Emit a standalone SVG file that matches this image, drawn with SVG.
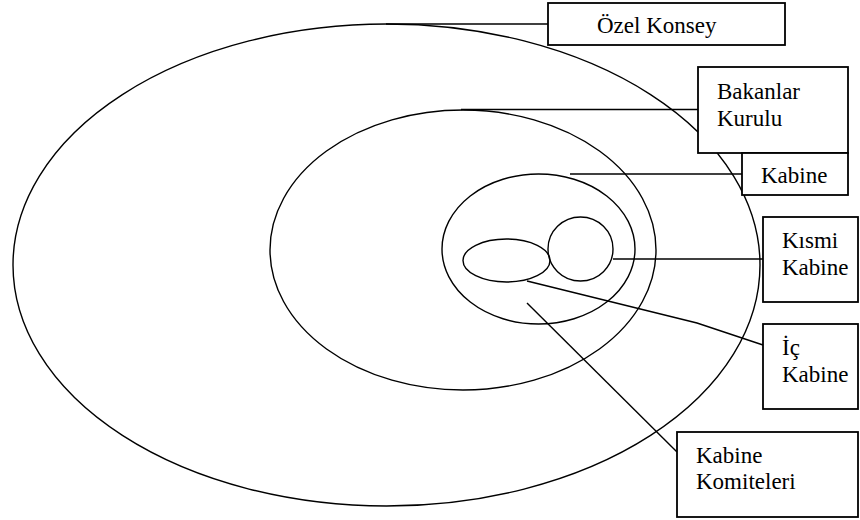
<svg xmlns="http://www.w3.org/2000/svg" width="860" height="520" viewBox="0 0 860 520">
<style>
.s{fill:none;stroke:#000;stroke-width:1.4}
.b{fill:#fff;stroke:#000;stroke-width:1.8}
.t{font-family:'Liberation Serif','DejaVu Serif','Times New Roman',Times,serif;font-size:23px;fill:#000}
.c{fill:none;stroke:#000;stroke-width:1.4}
</style>
<rect width="860" height="520" fill="#fff"/>
<g id="circles">
<ellipse id="ozel-ellipse" class="s" cx="386.5" cy="265" rx="373.5" ry="241"/>
<ellipse id="bakanlar-ellipse" class="s" cx="463" cy="250" rx="193" ry="140"/>
<ellipse id="kabine-ellipse" class="s" cx="538.5" cy="249" rx="96.5" ry="75"/>
<ellipse id="ic-ellipse" class="s" cx="506.5" cy="260.5" rx="43.5" ry="21.5"/>
<ellipse id="kismi-circle" class="s" cx="580.5" cy="249" rx="32.5" ry="32"/>
</g>
<g id="connectors">
<path class="c" d="M386 24 H548"/>
<path class="c" d="M461 109.5 H698"/>
<path class="c" d="M570 174 H742"/>
<path class="c" d="M613 259 H763"/>
<path class="c" d="M527 281 L697 323 L763 345"/>
<path class="c" d="M527 303 L677 452"/>
</g>
<g id="ozel-konsey">
<rect class="b" x="548" y="3" width="237" height="42"/>
<text class="t" x="597" y="33" font-family="'Liberation Serif','DejaVu Serif',serif">Özel Konsey</text>
</g>
<g id="bakanlar-kurulu">
<rect class="b" x="698" y="67" width="150" height="86"/>
<text class="t" x="717" y="99">Bakanlar</text>
<text class="t" x="717" y="126">Kurulu</text>
</g>
<g id="kabine">
<rect class="b" x="742" y="153" width="106" height="42"/>
<text class="t" x="761" y="183">Kabine</text>
</g>
<g id="kismi-kabine">
<rect class="b" x="763" y="217" width="95" height="85"/>
<text class="t" x="782" y="248">Kısmi</text>
<text class="t" x="782" y="275">Kabine</text>
</g>
<g id="ic-kabine">
<rect class="b" x="763" y="324" width="95" height="85"/>
<text class="t" x="782" y="355">İç</text>
<text class="t" x="782" y="382">Kabine</text>
</g>
<g id="kabine-komiteleri">
<rect class="b" x="677" y="432" width="181" height="85"/>
<text class="t" x="696" y="463">Kabine</text>
<text class="t" x="696" y="489">Komiteleri</text>
</g>
</svg>
